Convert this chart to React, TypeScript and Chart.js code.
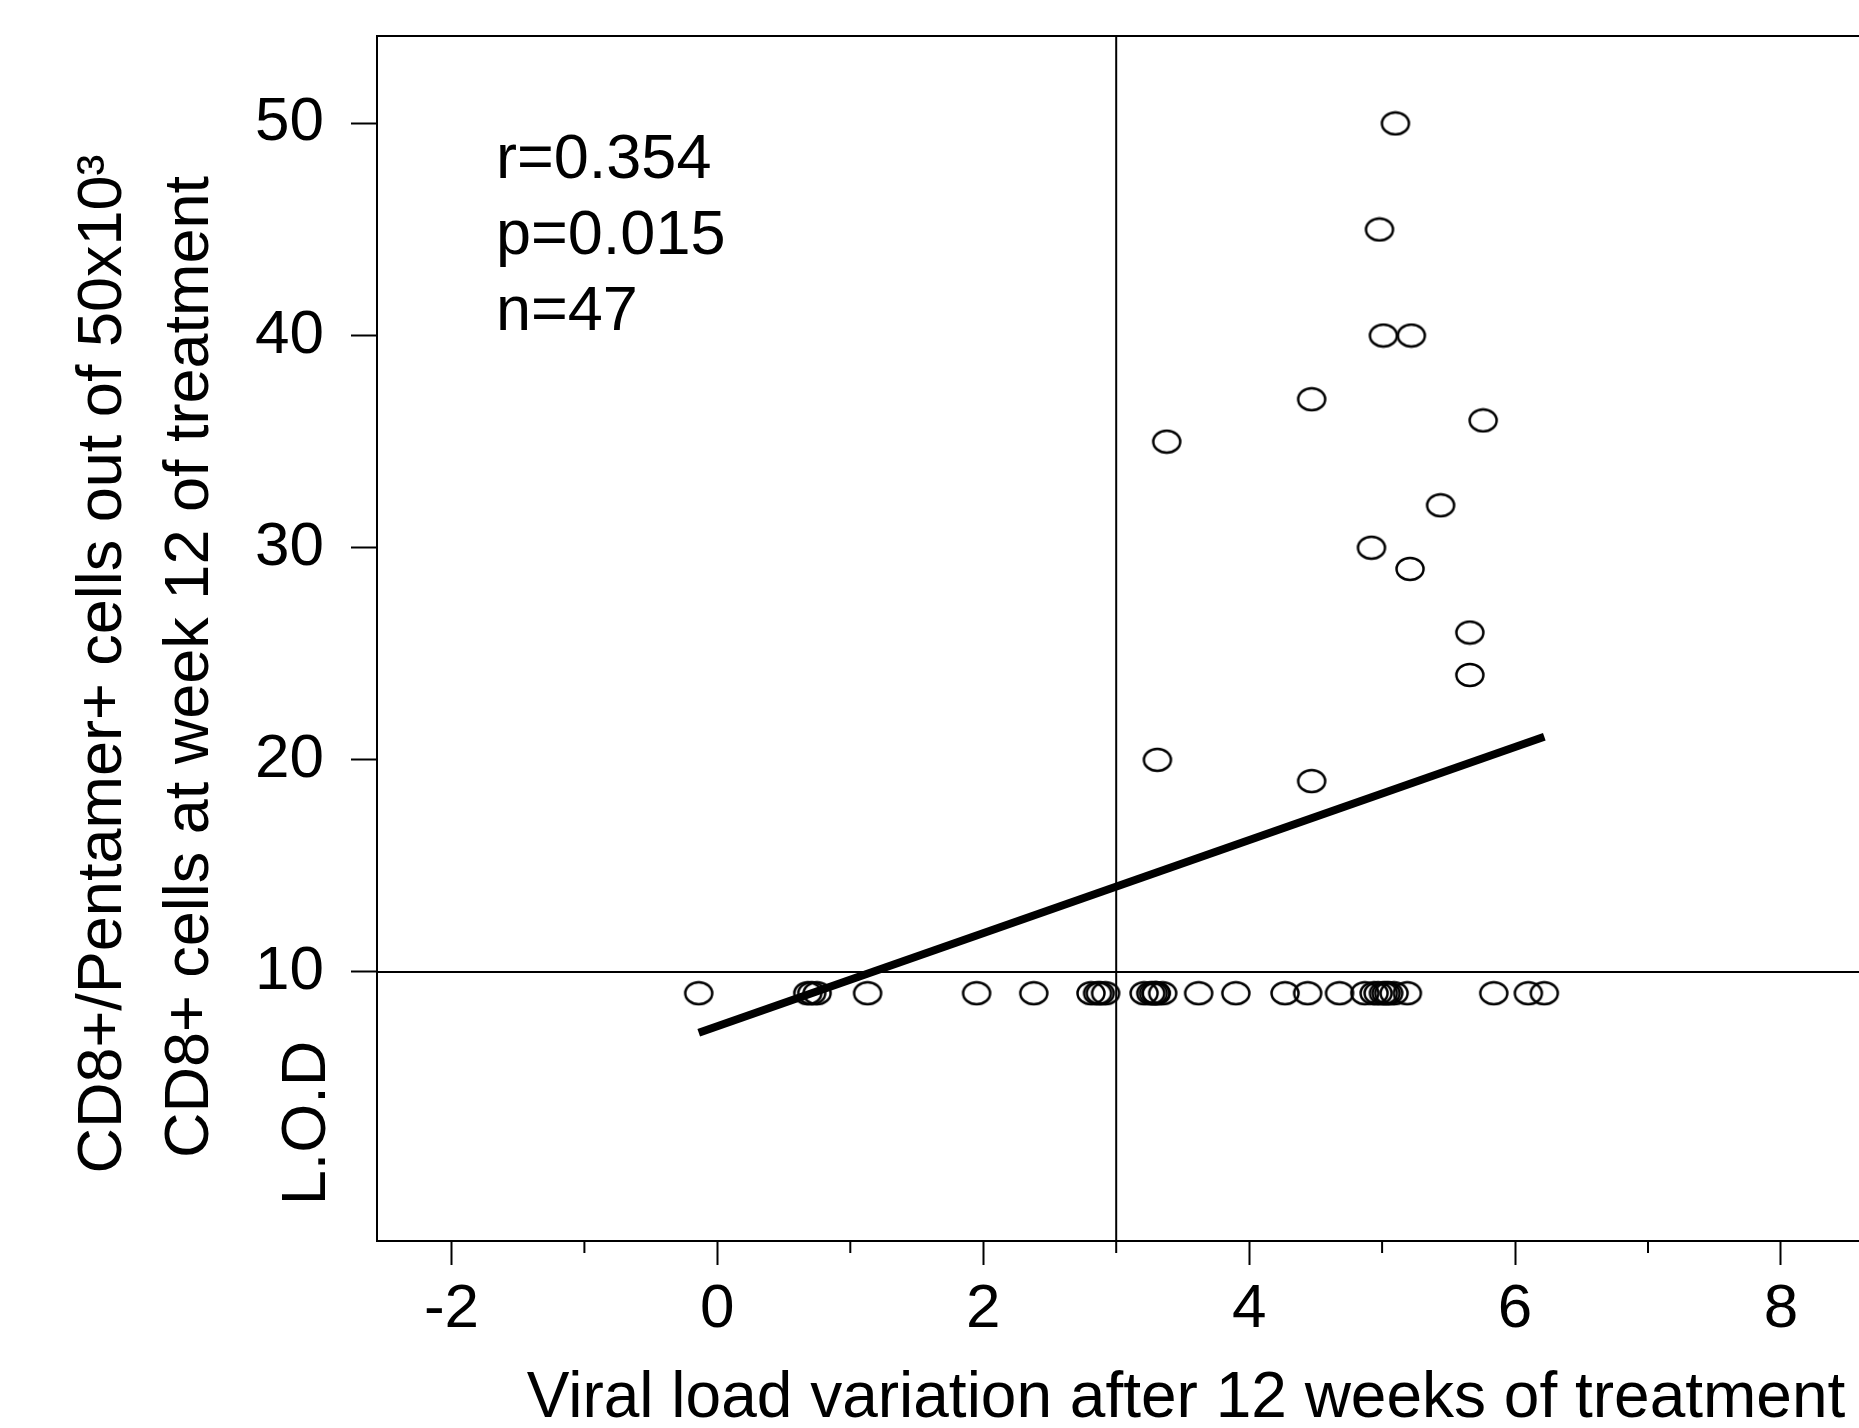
import React, { useEffect, useRef } from 'react';
import { Chart, registerables } from 'chart.js';

Chart.register(...registerables);

// ---- data ----
const pointsX = [
  5.10, 4.98, 5.01, 5.22, 4.47, 5.76, 3.38, 5.44, 4.92, 5.21, 5.66, 5.66, 3.31, 4.47,
  -0.14, 0.68, 0.71, 0.75, 1.13, 1.95, 2.38, 2.81, 2.86, 2.88, 2.92, 3.21, 3.26, 3.28,
  3.30, 3.30, 3.35, 3.62, 3.90, 4.27, 4.44, 4.68, 4.87, 4.94, 4.97, 5.01, 5.03, 5.05,
  5.09, 5.19, 5.84, 6.10, 6.22,
];
const pointsY = [
  50, 45, 40, 40, 37, 36, 35, 32, 30, 29, 26, 24, 20, 19,
  9, 9, 9, 9, 9, 9, 9, 9, 9, 9, 9, 9, 9, 9,
  9, 9, 9, 9, 9, 9, 9, 9, 9, 9, 9, 9, 9, 9,
  9, 9, 9, 9, 9,
];
const fitX = [-0.14, 6.22];
const fitY = [7.14, 21.09];
const lodValue = 10;
const cutoffX = 3;
const xTicks = [-2, 0, 2, 4, 6, 8];
const xMinorTicks = [-1, 1, 3, 5, 7, 9];
const yTicks = [10, 20, 30, 40, 50];
const xRange = [-2.56, 9.61];
const yRange = [-2.68, 54.12];
const statsLines = ['r=0.354', 'p=0.015', 'n=47'];
const yTitleLines = ['CD8+/Pentamer+ cells out of 50x10\u00B3', 'CD8+ cells at week 12 of treatment'];
const lodLabel = 'L.O.D';
const xTitle = 'Viral load variation after 12 weeks of treatment';

const FONT = '"Liberation Sans", Arial, Helvetica, sans-serif';
const W = 2100;
const H = 1500;

function makeMarker(): HTMLCanvasElement {
  const c = document.createElement('canvas');
  c.width = 32;
  c.height = 26;
  const g = c.getContext('2d') as CanvasRenderingContext2D;
  g.strokeStyle = '#000';
  g.lineWidth = 2.5;
  g.beginPath();
  g.ellipse(16, 13, 13.5, 11, 0, 0, Math.PI * 2);
  g.stroke();
  return c;
}

const decorPlugin = {
  id: 'decor',
  afterDraw(chart: any) {
    const { ctx, chartArea: a, scales } = chart;
    ctx.save();
    ctx.strokeStyle = '#000';
    ctx.lineWidth = 2;
    ctx.beginPath();
    ctx.moveTo(a.left - 1, a.top);
    ctx.lineTo(a.right, a.top);
    ctx.stroke();
    xMinorTicks.forEach((v) => {
      const px = scales.x.getPixelForValue(v);
      if (px < a.left || px > a.right) return;
      ctx.beginPath();
      ctx.moveTo(px, a.bottom);
      ctx.lineTo(px, a.bottom + 12);
      ctx.stroke();
    });
    ctx.fillStyle = '#000';
    ctx.font = `63px ${FONT}`;
    ctx.textAlign = 'left';
    ctx.textBaseline = 'alphabetic';
    statsLines.forEach((t, i) => ctx.fillText(t, 496, 178 + i * 76));

    const rot = (text: string, bx: number, cy: number) => {
      ctx.save();
      ctx.translate(bx, cy);
      ctx.rotate(-Math.PI / 2);
      ctx.textAlign = 'center';
      ctx.textBaseline = 'alphabetic';
      ctx.fillText(text, 0, 0);
      ctx.restore();
    };
    rot(yTitleLines[0], 121, 664);
    rot(yTitleLines[1], 208, 667);
    rot(lodLabel, 325, 1123);
    ctx.restore();
  },
};

export default function App() {
  const ref = useRef<HTMLCanvasElement | null>(null);

  useEffect(() => {
    const canvas = ref.current;
    if (!canvas) return;
    const marker = makeMarker();
    const points = pointsX.map((x, i) => ({ x, y: pointsY[i] }));
    const chart = new Chart(canvas, {
      type: 'scatter',
      data: {
        datasets: [
          {
            type: 'line',
            label: 'fit',
            data: fitX.map((x, i) => ({ x, y: fitY[i] })),
            borderColor: '#000',
            borderWidth: 8,
            pointRadius: 0,
            fill: false,
            order: 0,
          } as any,
          {
            type: 'line',
            label: 'lod',
            data: [
              { x: xRange[0], y: lodValue },
              { x: xRange[1], y: lodValue },
            ],
            borderColor: '#000',
            borderWidth: 2,
            pointRadius: 0,
            fill: false,
            order: 2,
          } as any,
          {
            type: 'line',
            label: 'cutoff',
            data: [
              { x: cutoffX, y: yRange[0] },
              { x: cutoffX, y: yRange[1] },
            ],
            borderColor: '#000',
            borderWidth: 2,
            pointRadius: 0,
            fill: false,
            order: 2,
          } as any,
          {
            type: 'scatter',
            label: 'patients',
            data: points,
            pointStyle: marker,
            pointRadius: 13,
            order: 1,
          } as any,
        ],
      },
      options: {
        animation: false,
        responsive: false,
        maintainAspectRatio: false,
        devicePixelRatio: 1,
        layout: { padding: { left: 0, top: 36, right: W - 1995, bottom: 0 } },
        plugins: { legend: { display: false }, tooltip: { enabled: false } },
        scales: {
          x: {
            type: 'linear',
            position: 'bottom',
            min: xRange[0],
            max: xRange[1],
            afterBuildTicks: (s: any) => {
              s.ticks = xTicks.map((v) => ({ value: v }));
            },
            afterFit: (s: any) => {
              s.height = H - 1241;
              s.paddingLeft = 0;
              s.paddingRight = 0;
            },
            grid: { drawOnChartArea: false, drawTicks: true, tickLength: 24, tickWidth: 2, tickColor: '#000' },
            border: { display: true, color: '#000', width: 2 },
            ticks: {
              color: '#000',
              font: { family: FONT, size: 62 },
              padding: 8,
              maxRotation: 0,
              autoSkip: false,
              callback: (v: any) => String(v),
            },
            title: {
              display: true,
              text: xTitle,
              color: '#000',
              font: { family: FONT, size: 64 },
              padding: { top: 0, bottom: 62 },
            },
          },
          y: {
            type: 'linear',
            position: 'left',
            min: yRange[0],
            max: yRange[1],
            afterBuildTicks: (s: any) => {
              s.ticks = yTicks.map((v) => ({ value: v }));
            },
            afterFit: (s: any) => {
              s.width = 377;
              s.paddingTop = 0;
              s.paddingBottom = 0;
            },
            grid: { drawOnChartArea: false, drawTicks: true, tickLength: 26, tickWidth: 2, tickColor: '#000' },
            border: { display: true, color: '#000', width: 2 },
            ticks: {
              color: '#000',
              font: { family: FONT, size: 62 },
              padding: 27,
              autoSkip: false,
              callback: (v: any) => String(v),
            },
          },
        },
      },
      plugins: [decorPlugin],
    } as any);
    return () => chart.destroy();
  }, []);

  return (
    <div style={{ position: 'fixed', left: 0, top: 0, width: '100vw', height: '100vh', overflow: 'hidden', background: '#fff' }}>
      <canvas ref={ref} width={W} height={H} style={{ position: 'absolute', left: 0, top: 0, width: W, height: H }} />
    </div>
  );
}
